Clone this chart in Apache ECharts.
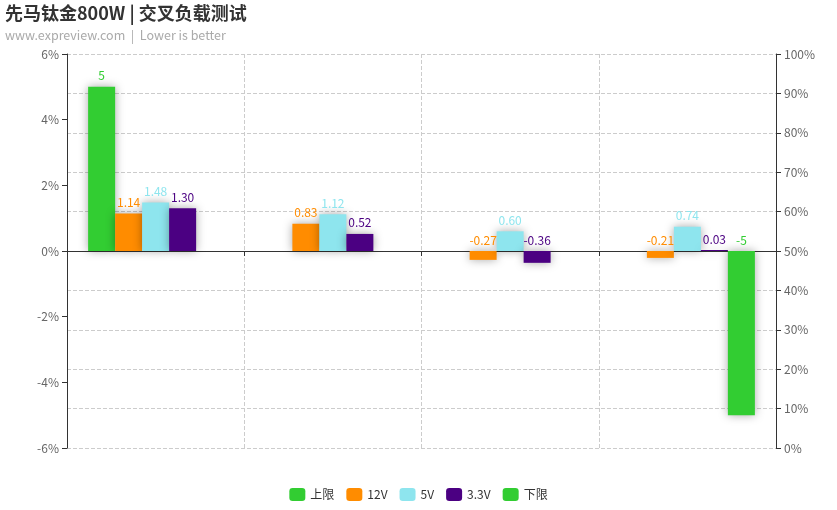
<!DOCTYPE html>
<html><head><meta charset="utf-8">
<script src="https://cdn.jsdelivr.net/npm/echarts@6/dist/echarts.min.js"></script>
<style>html,body{margin:0;padding:0;background:#fff}#c{width:837px;height:510px}</style>
</head><body><div id="c"></div>
<script>
const categories = ['A', 'B', 'C', 'D'];
const seriesNames = ['上限', '12V', '5V', '3.3V', '下限'];
const upper = [5, null, null, null];
const v12 = [1.14, 0.83, -0.27, -0.21];
const v5 = [1.48, 1.12, 0.60, 0.74];
const v33 = [1.30, 0.52, -0.36, 0.03];
const lower = [null, null, null, -5];
const colors = ['#32CD32', '#FF8C00', '#8EE5EE', '#4B0082', '#32CD32'];
const decimals = [0, 2, 2, 2, 0];
const allData = [upper, v12, v5, v33, lower];
const FONT = '"Noto Sans CJK SC", "Noto Sans", sans-serif';

const chart = echarts.init(document.getElementById('c'));
chart.setOption({
  animation: false,
  textStyle: { fontFamily: FONT },
  title: {
    text: '先马钛金800W | 交叉负载测试',
    subtext: 'www.expreview.com  |  Lower is better',
    left: 0, top: -1,
    textStyle: { fontSize: 18, fontWeight: 'bold', color: '#333', fontFamily: FONT },
    subtextStyle: { fontSize: 12.5, color: '#aaa', fontFamily: FONT },
    itemGap: 7
  },
  color: colors,
  legend: {
    bottom: 4, left: 'center',
    icon: 'roundRect', itemWidth: 16, itemHeight: 13, itemGap: 12,
    textStyle: { color: '#333', fontSize: 12, fontFamily: FONT },
    data: seriesNames
  },
  grid: { left: 67, right: 61, top: 54, bottom: 62 },
  xAxis: {
    type: 'category', data: categories,
    axisLine: { onZero: true, lineStyle: { color: '#333' } },
    axisTick: { show: true, inside: false, lineStyle: { color: '#333' } },
    axisLabel: { show: false },
    splitLine: { show: true, lineStyle: { type: 'dashed', color: '#ccc' } }
  },
  yAxis: [
    {
      type: 'value', min: -6, max: 6, interval: 2,
      axisLine: { show: true, lineStyle: { color: '#333' } },
      axisTick: { show: true },
      axisLabel: { formatter: '{value}%', color: '#666', fontSize: 12 },
      splitLine: { show: false }
    },
    {
      type: 'value', min: 0, max: 100, interval: 10,
      axisLine: { show: true, lineStyle: { color: '#333' } },
      axisTick: { show: true },
      axisLabel: { formatter: '{value}%', color: '#666', fontSize: 12 },
      splitLine: { show: true, lineStyle: { type: 'dashed', color: '#ccc' } }
    }
  ],
  series: seriesNames.map((name, i) => ({
    name: name, type: 'bar', data: allData[i],
    barWidth: 27, barGap: '0%',
    itemStyle: { color: colors[i], shadowBlur: 10, shadowColor: 'rgba(0,0,0,0.35)' },
    label: {
      show: true, position: 'top', color: colors[i], fontSize: 12, fontFamily: FONT,
      formatter: p => p.value == null ? '' : Number(p.value).toFixed(decimals[i])
    }
  }))
});
</script></body></html>
